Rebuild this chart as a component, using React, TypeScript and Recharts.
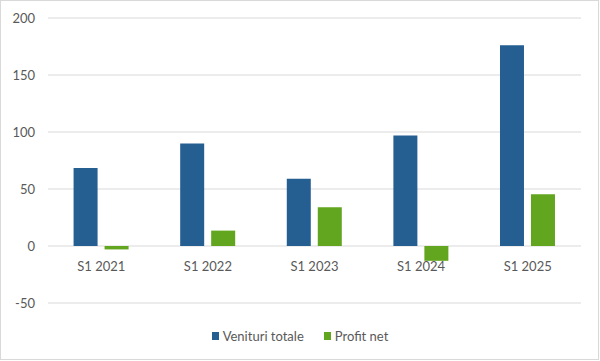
import { BarChart, Bar, XAxis, YAxis, CartesianGrid } from "recharts";

const categories = ["S1 2021", "S1 2022", "S1 2023", "S1 2024", "S1 2025"];
const venituri = [68.5, 90, 59, 97, 176];
const profit = [-3, 13.5, 34, -13, 45.5];
const yTicks = [-50, 0, 50, 100, 150, 200];

const series = [
  { key: "venituri", name: "Venituri totale", color: "#255E91" },
  { key: "profit", name: "Profit net", color: "#62A51E" },
];

const data = categories.map((c, i) => ({ cat: c, venituri: venituri[i], profit: profit[i] }));

const TEXT = "#595959";
const FONT = "Lato, 'Liberation Sans', sans-serif";

// Excel puts category labels next to the 0 line, not at the bottom
function XTick({ x, y, payload }: any) {
  return (
    <text x={x} y={y} dy={-32} textAnchor="middle" fill={TEXT} fontSize={13} fontFamily={FONT}>
      {payload.value}
    </text>
  );
}

export default function App() {
  return (
    <div style={{ position: "absolute", left: 0, top: 0, width: 600, height: 361, background: "#fff", fontFamily: FONT }}>
      <div style={{ position: "absolute", left: 0, top: 0, width: 597, height: 358, border: "1px solid #d9d9d9" }} />
      <BarChart
        width={600}
        height={361}
        data={data}
        margin={{ top: 18, right: 19, bottom: 28, left: 0 }}
        barCategoryGap="24%"
        barGap={7}
      >
        <CartesianGrid vertical={false} stroke="#d9d9d9" />
        <XAxis
          dataKey="cat"
          axisLine={false}
          tickLine={false}
          tickSize={0}
          tickMargin={0}
          height={30}
          interval={0}
          tick={<XTick />}
        />
        <YAxis
          domain={[-50, 200]}
          ticks={yTicks}
          axisLine={false}
          tickLine={false}
          width={48}
          tickMargin={7}
          tick={{ fill: TEXT, fontSize: 13, fontFamily: FONT }}
          interval={0}
        />
        {series.map(s => (
          <Bar key={s.key} dataKey={s.key} name={s.name} fill={s.color} isAnimationActive={false} />
        ))}
      </BarChart>
      <div style={{ position: "absolute", left: 0, top: 328, width: 600, display: "flex", justifyContent: "center", gap: 20, fontSize: 13, color: TEXT }}>
        {series.map(s => (
          <div key={s.key} style={{ display: "flex", alignItems: "center" }}>
            <span style={{ display: "inline-block", width: 7, height: 8, background: s.color, marginRight: 4 }} />
            <span>{s.name}</span>
          </div>
        ))}
      </div>
    </div>
  );
}
